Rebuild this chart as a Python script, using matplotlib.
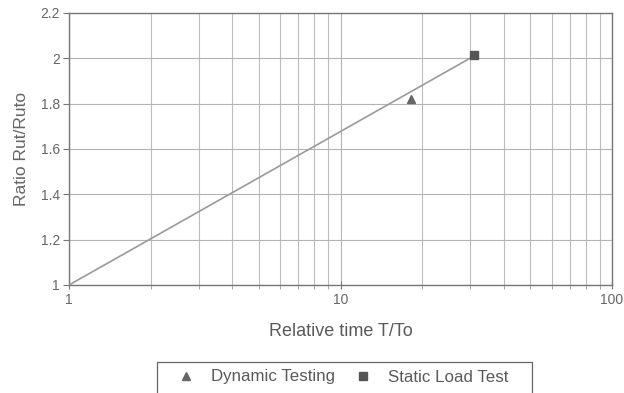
import matplotlib
matplotlib.use("Agg")
import matplotlib.pyplot as plt
from matplotlib.patches import Rectangle
from matplotlib.ticker import LogLocator, FixedLocator, NullFormatter, FixedFormatter

plt.rcParams['font.family'] = ['Liberation Sans', 'DejaVu Sans']

# Data
fit_t = [1, 31]
fit_ratio = [1.0, 2.01]
dyn_t = [18.2]
dyn_ratio = [1.82]
static_t = [31]
static_ratio = [2.013]
y_ticks = [1, 1.2, 1.4, 1.6, 1.8, 2, 2.2]
y_ticklabels = ['1', '1.2', '1.4', '1.6', '1.8', '2', '2.2']
x_ticks = [1, 10, 100]
x_ticklabels = ['1', '10', '100']

txt = '#5a5a5a'
W, H = 624, 393
fig = plt.figure(figsize=(6.24, 3.93), dpi=100)
ax = fig.add_axes([69 / W, 1 - 285 / H, (612 - 69) / W, (285 - 13) / H])

ax.set_xscale('log')
ax.set_xlim(1, 100)
ax.set_ylim(1, 2.2)

ax.plot(fit_t, fit_ratio, color='#9a9a9a', lw=1.2, zorder=3)
ax.plot(dyn_t, dyn_ratio, linestyle='none', marker='^', color='#666666', ms=5.5, label='Dynamic Testing', zorder=4)
ax.plot(static_t, static_ratio, linestyle='none', marker='s', color='#555555', ms=5.5, label='Static Load Test', zorder=4)

ax.xaxis.set_major_locator(FixedLocator(x_ticks))
ax.xaxis.set_major_formatter(FixedFormatter(x_ticklabels))
ax.xaxis.set_minor_locator(LogLocator(base=10, subs=range(2, 10)))
ax.xaxis.set_minor_formatter(NullFormatter())
ax.yaxis.set_major_locator(FixedLocator(y_ticks))
ax.yaxis.set_major_formatter(FixedFormatter(y_ticklabels))

ax.grid(True, which='major', color='#b4b4b4', lw=0.8)
ax.grid(True, which='minor', axis='x', color='#bcbcbc', lw=0.8)

for s in ax.spines.values():
    s.set_color('#777777')
    s.set_linewidth(1.0)

ax.tick_params(axis='both', which='major', colors='#777777', labelcolor='#666666', labelsize=10, length=4, direction='out', pad=2.5)
ax.tick_params(axis='x', which='minor', colors='#999999', length=3, direction='out')
ax.tick_params(axis='x', which='major', direction='inout', length=6)

ax.set_xlabel('Relative time T/To', color=txt, fontsize=13, labelpad=12)
ax.set_ylabel('Ratio Rut/Ruto', color='#666666', fontsize=12.5, labelpad=8)

leg = fig.legend(loc='center', bbox_to_anchor=(343 / W, 1 - 377 / H), ncol=2,
                 frameon=False, fontsize=12.2, labelcolor=txt,
                 columnspacing=1.1, handletextpad=1.0, borderpad=0.0,
                 handlelength=1.0)
fig.patches.append(Rectangle((157 / W, -0.02), (532 - 157) / W, 0.02 + 1 - 362 / H,
                             transform=fig.transFigure, fill=False,
                             edgecolor='#666666', lw=0.9))

fig.savefig('out.png', dpi=100)
